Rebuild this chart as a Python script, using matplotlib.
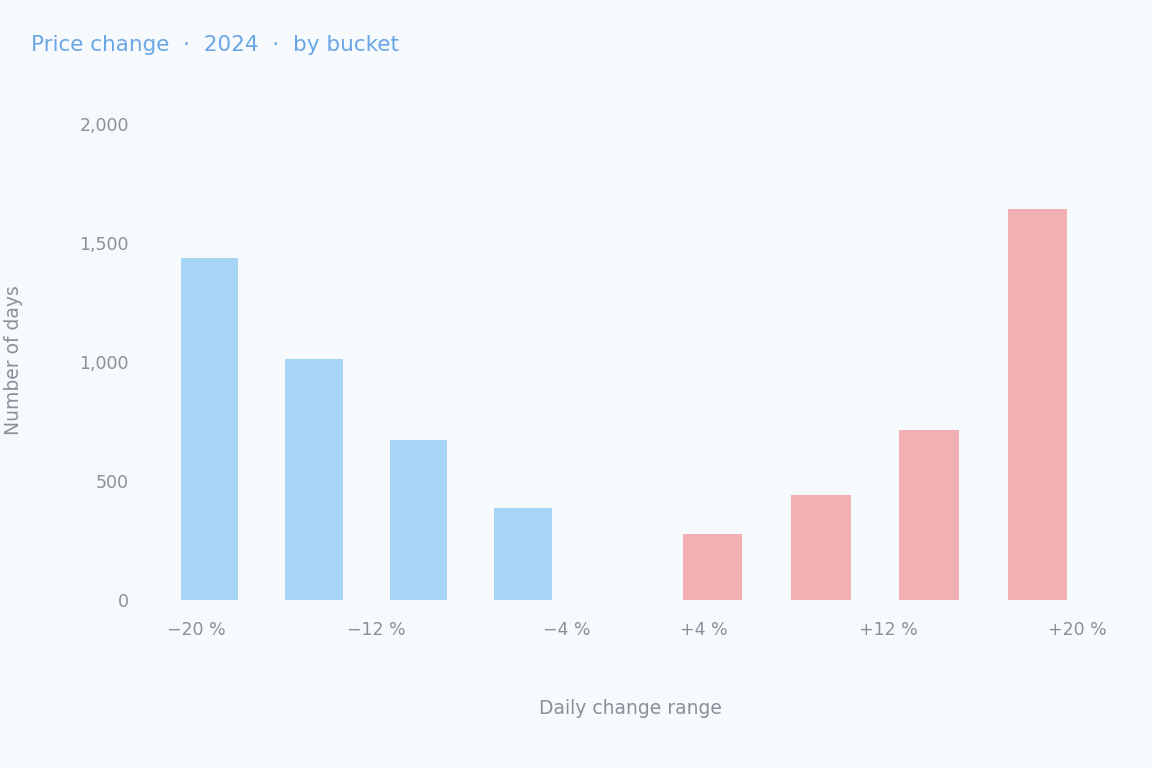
import numpy as np
import matplotlib.pyplot as plt

# Datos
bajas_cat = ['-20%', '-15%', '-10%', '-5%']
bajas_val = [1435, 1010, 670, 385]
subidas_cat = ['+5%', '+10%', '+15%', '+20%']
subidas_val = [275, 440, 715, 1640]

y_ticks = [0, 500, 1000, 1500, 2000]
y_labels = ['0', '500', '1,000', '1,500', '2,000']

bajas_ticks = [-0.125, 1.6, 3.42]
bajas_tick_labels = ['−20 %', '−12 %', '−4 %']
subidas_ticks = [-0.08, 1.62, 3.37]
subidas_tick_labels = ['+4 %', '+12 %', '+20 %']

titulo = 'Price change  ·  2024  ·  by bucket'
x_titulo = 'Daily change range'
y_titulo = 'Number of days'

# Estilo
fondo = '#f6fafd'
azul = '#a7d5f5'
rojo = '#f2b0b5'
gris = '#8a9099'

fig = plt.figure(figsize=(11.52, 7.68), dpi=100, facecolor=fondo)
ax1 = fig.add_axes([0.130, 0.219, 0.391, 0.651])
ax2 = fig.add_axes([0.556, 0.219, 0.408, 0.651], sharey=ax1)

for ax in (ax1, ax2):
    ax.set_facecolor(fondo)
    for s in ax.spines.values():
        s.set_visible(False)
    ax.tick_params(length=0, labelsize=12.5, colors=gris, pad=15)

ax1.bar(np.arange(len(bajas_val)), bajas_val, width=0.55, color=azul)
ax2.bar(np.arange(len(subidas_val)), subidas_val, width=0.55, color=rojo)

ax1.set_xlim(-0.575, 3.74)
ax2.set_xlim(-0.665, 3.675)
ax1.set_ylim(0, 2100)

ax1.set_yticks(y_ticks)
ax1.set_yticklabels(y_labels)
ax2.tick_params(axis='y', labelleft=False)

ax1.set_xticks(bajas_ticks)
ax1.set_xticklabels(bajas_tick_labels)
ax2.set_xticks(subidas_ticks)
ax2.set_xticklabels(subidas_tick_labels)

fig.text(0.027, 0.941, titulo, fontsize=15.5, color='#6aa6e6', ha='left', va='center')
fig.text(0.547, 0.078, x_titulo, fontsize=13.5, color=gris, ha='center', va='center')
fig.text(0.012, 0.531, y_titulo, fontsize=13.5, color=gris, rotation=90, ha='center', va='center')

fig.savefig('out.png', dpi=100, facecolor=fondo)
